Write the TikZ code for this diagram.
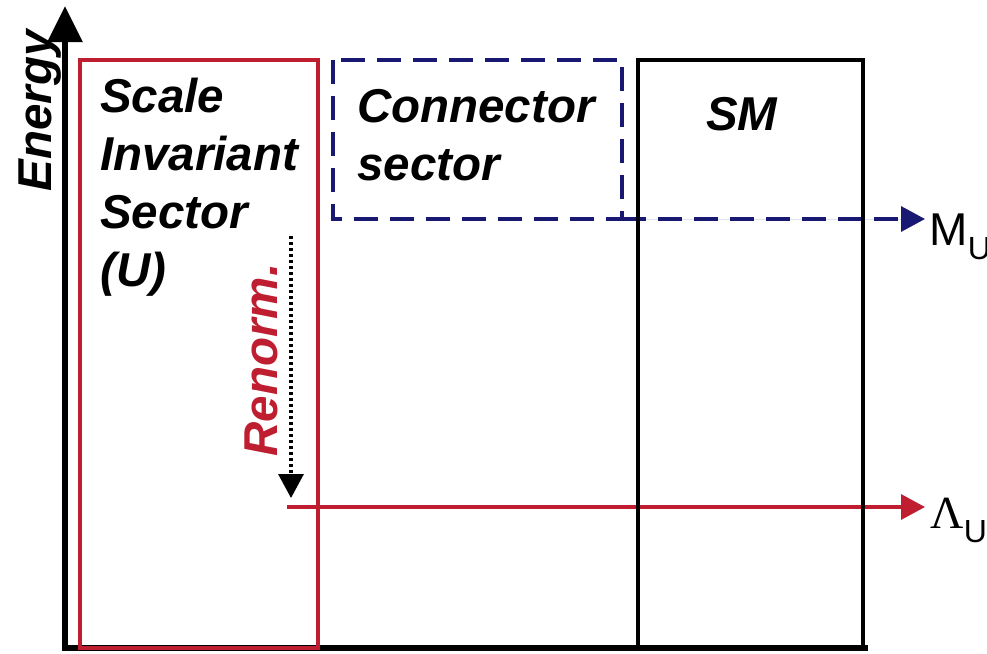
\documentclass[tikz,border=0pt]{standalone}
\usepackage{fontspec}
\setmainfont{Liberation Sans}
\newfontfamily\greekfont{Liberation Serif}
\usepackage{tikz}
\usetikzlibrary{arrows.meta,positioning}
\definecolor{unpcol}{RGB}{190,30,48}
\definecolor{conncol}{RGB}{25,25,115}

\begin{document}
\begin{tikzpicture}[
    x=1pt, y=-1pt,
    lbl/.style={font=\fontsize{47.5}{58}\selectfont\bfseries\itshape, inner sep=0pt, align=left},
    scl/.style={font=\fontsize{46}{50}\selectfont, inner sep=0pt},
    sub/.style={font=\fontsize{32}{34}\selectfont, inner sep=0pt},
    unpbox/.style={draw=unpcol, line width=3.3pt},
    connbox/.style={draw=conncol, line width=3.5pt, dash pattern=on 24pt off 12pt},
    smbox/.style={draw=black, line width=3.5pt},
    axis/.style={line width=6pt, {Triangle[length=36pt,width=34pt]}-},
    ar/.style={-{Triangle[length=24pt,width=25pt]}, line width=3.3pt}
  ]
  \useasboundingbox (0,0) rectangle (987,653);

  % corners of the three sectors
  \coordinate (unpNW) at (80,60);
  \coordinate (unpSE) at (318,648);
  \coordinate (connNW) at (333,60);
  \coordinate (connSE) at (622,219);
  \coordinate (smNW) at (638,60);
  \coordinate (smSE) at (863,648);

  % axes
  \coordinate (etop) at (65,6);
  \coordinate (orig) at (65,648);
  \coordinate (xend) at (868,648);
  \draw[axis] (etop) -- (orig) -- (xend);
  \node[lbl, rotate=90, anchor=base] (energy) at (51,111) {Energy};

  % scale invariant sector
  \draw[unpbox] (unpNW) rectangle (unpSE);
  \node[lbl, anchor=north west] (usec) at (100,78) {Scale\\Invariant\\Sector\\(U)};

  % connector sector
  \coordinate (mstart) at (622,219);
  \coordinate (mend) at (925,219);
  \draw[connbox] (connNW) rectangle (connSE);
  \draw[connbox, ar, draw=conncol, fill=conncol] (mstart) -- (mend);
  \node[lbl, anchor=north west] (conn) at (357,89) {Connector\\sector};

  % renormalisation down to Lambda_U
  \coordinate (rtop) at (291,236);
  \coordinate (rbot) at (291,498);
  \draw[ar, dash pattern=on 3pt off 3pt] (rtop) -- (rbot);
  \node[lbl, text=unpcol, rotate=90, anchor=base] (renorm) at (277,360) {Renorm.};

  \coordinate (lstart) at (287,507);
  \coordinate (lend) at (925,507);
  \draw[ar, draw=unpcol, fill=unpcol] (lstart) -- (lend);

  % standard model
  \draw[smbox] (smNW) rectangle (smSE);
  \node[lbl, anchor=base west] (sm) at (706,130) {SM};

  % scale labels
  \node[scl, anchor=base west] (mu) at (929,245) {M};
  \node[sub, anchor=base west, yshift=-14pt] (musub) at (mu.base east) {U};
  \node[scl, anchor=base west] (lu) at (930,528) {\greekfont Λ};
  \node[sub, anchor=base west, yshift=-14pt] (lusub) at (lu.base east) {U};
\end{tikzpicture}
\end{document}
